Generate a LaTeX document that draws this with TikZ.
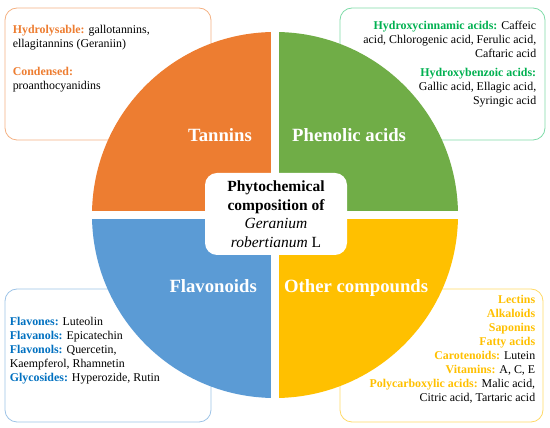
\documentclass[tikz,border=0pt]{standalone}
\usepackage{fontspec}
\setmainfont{Liberation Serif}
\usepackage{tikz}
\usetikzlibrary{positioning}
\definecolor{tanino}{HTML}{ED7D31}
\definecolor{fenol}{HTML}{70AD47}
\definecolor{flavo}{HTML}{5B9BD5}
\definecolor{otros}{HTML}{FFC000}
\definecolor{fenoltxt}{HTML}{00B050}
\definecolor{flavotxt}{HTML}{0070C0}
\definecolor{taninoborde}{HTML}{F4B183}
\definecolor{fenolborde}{HTML}{7FDBA8}
\definecolor{flavoborde}{HTML}{9DC3E6}
\definecolor{otrosborde}{HTML}{FFD966}
\newcommand{\cat}[2]{\textbf{\color{#1}#2}}
\tikzstyle{caja} = [rounded corners=12pt, line width=0.8pt, inner sep=0pt]
\tikzstyle{lista} = [inner sep=0pt, font=\fontsize{11.9}{14}\selectfont]
\tikzstyle{cuarto} = [inner sep=0pt, text=white, font=\fontsize{18.7}{20}\selectfont\bfseries]
\tikzstyle{hueco} = [draw=white, line width=8.6pt]
\tikzstyle{centro} = [fill=white, rounded corners=12pt, minimum width=142pt, minimum height=82pt, align=center, inner sep=0pt, font=\fontsize{15.5}{18.5}\selectfont\bfseries]
\begin{document}
\begin{tikzpicture}[x=1pt, y=1pt]
	\useasboundingbox (0,0) rectangle (550,428);
	\node[caja, draw=taninoborde, minimum width=206pt, minimum height=132pt] (cajaTan) at (108,354) {};
	\node[caja, draw=fenolborde, minimum width=205pt, minimum height=132pt] (cajaFen) at (442.5,354) {};
	\node[caja, draw=flavoborde, minimum width=206pt, minimum height=133pt] (cajaFla) at (108,72.5) {};
	\node[caja, draw=otrosborde, minimum width=203pt, minimum height=133pt] (cajaOtr) at (441.5,72.5) {};
	\node[lista, anchor=north west, align=left] (textoTan) at ([xshift=8pt, yshift=-17pt]cajaTan.north west) {%
		\cat{tanino}{Hydrolysable:} gallotannins,\\
		ellagitannins (Geraniin)\\[14pt]
		\cat{tanino}{Condensed:}\\
		proanthocyanidins};
	\node[lista, anchor=north east, align=right] (textoFen) at ([xshift=-9pt, yshift=-13.5pt]cajaFen.north east) {%
		\cat{fenoltxt}{Hydroxycinnamic acids:} Caffeic\\
		acid, Chlorogenic acid, Ferulic acid,\\
		Caftaric acid\\[4.6pt]
		\cat{fenoltxt}{Hydroxybenzoic acids:}\\
		Gallic acid, Ellagic acid,\\
		Syringic acid};
	\node[lista, anchor=north west, align=left] (textoFla) at ([xshift=5pt, yshift=-28pt]cajaFla.north west) {%
		\cat{flavotxt}{Flavones:} Luteolin\\
		\cat{flavotxt}{Flavanols:} Epicatechin\\
		\cat{flavotxt}{Flavonols:} Quercetin,\\
		Kaempferol, Rhamnetin\\
		\cat{flavotxt}{Glycosides:} Hyperozide, Rutin};
	\node[lista, anchor=north east, align=right] (textoOtr) at ([xshift=-8pt, yshift=-6.3pt]cajaOtr.north east) {%
		\cat{otros}{Lectins}\\
		\cat{otros}{Alkaloids}\\
		\cat{otros}{Saponins}\\
		\cat{otros}{Fatty acids}\\
		\cat{otros}{Carotenoids:} Lutein\\
		\cat{otros}{Vitamins:} A, C, E\\
		\cat{otros}{Polycarboxylic acids:} Malic acid,\\
		Citric acid, Tartaric acid};
	\coordinate (c) at (275,213);
	\fill[tanino] (c) -- ++(180:183pt) arc[start angle=180, end angle=90, radius=183pt] -- cycle;
	\fill[fenol] (c) -- ++(90:183pt) arc[start angle=90, end angle=0, radius=183pt] -- cycle;
	\fill[otros] (c) -- ++(0:183pt) arc[start angle=0, end angle=-90, radius=183pt] -- cycle;
	\fill[flavo] (c) -- ++(-90:183pt) arc[start angle=-90, end angle=-180, radius=183pt] -- cycle;
	\draw[hueco] ([yshift=186pt]c) -- ([yshift=-186pt]c);
	\draw[hueco] ([xshift=-186pt]c) -- ([xshift=186pt]c);
	\node[cuarto, anchor=base east] (tan) at (252,286.3) {Tannins};
	\node[cuarto, anchor=base west] (fen) at (292,286.3) {Phenolic acids};
	\node[cuarto, anchor=base east] (fla) at (257,135) {Flavonoids};
	\node[cuarto, anchor=base west] (otr) at (284,135) {Other compounds};
	\node[centro] (titulo) at (276,214) {Phytochemical\\ composition of\\ \textit{\mdseries Geranium}\\ \textit{\mdseries robertianum} {\mdseries L}};
\end{tikzpicture}
\end{document}
